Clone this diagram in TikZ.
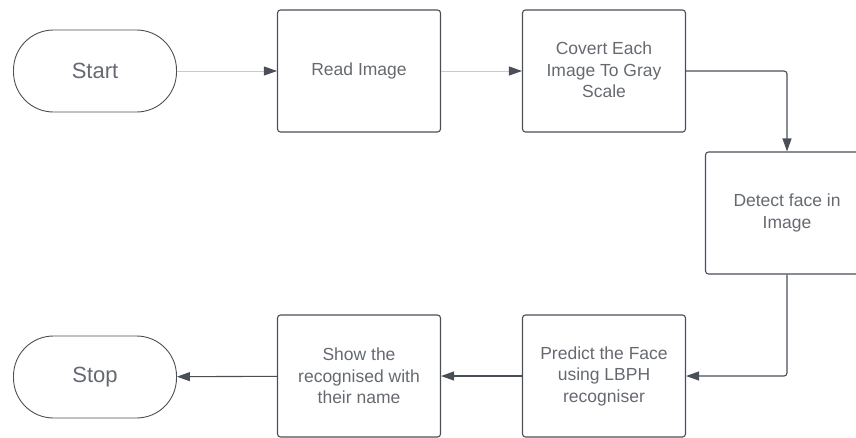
\documentclass[tikz,border=0pt]{standalone}
\usepackage{fontspec}
\setmainfont{Liberation Sans}
\usetikzlibrary{arrows.meta}

\begin{document}
\begin{tikzpicture}[x=1pt,y=-1pt]
        \definecolor{linegray}{HTML}{4A4F57}
        \definecolor{lightline}{HTML}{C8CACD}
        \tikzset{step box/.style = {shape=rectangle,draw=linegray,line width=1.1pt,rounded corners=3pt,
            minimum width=163pt,minimum height=122pt,align=center,
            font=\fontsize{17.5}{21.5}\selectfont,text=linegray!85}}
        \tikzset{terminal/.style = {shape=rectangle,draw=linegray,line width=0.9pt,rounded corners=40pt,
            minimum width=163pt,minimum height=82pt,font=\fontsize{22}{26}\selectfont,text=linegray!85}}
        \tikzset{edge/.style = {draw=linegray,line width=1.1pt,-{Triangle[length=13pt,width=9pt,color=linegray]},rounded corners=3pt}}
        \tikzset{light edge/.style = {edge,draw=lightline,line width=0.8pt}}
        \useasboundingbox (0,0) rectangle (856,437);
        % vertices
        \node[terminal] (start) at (95,71) {Start};
        \node[step box] (read) at (359,71) {\raisebox{3pt}{Read Image}};
        \node[step box] (gray) at (604,71) {\raisebox{2pt}{Covert Each}\\\raisebox{2pt}{Image To Gray}\\\raisebox{2pt}{Scale}};
        \node[step box] (detect) at (787,213) {Detect face in\\Image};
        \node[step box] (predict) at (604,376) {Predict the Face\\using LBPH\\recogniser};
        \node[step box] (show) at (359,376) {Show the\\recognised with\\their name};
        \node[terminal] (stop) at (95,377) {Stop};
        % edges
        \draw[light edge] (start) -- (read);
        \draw[light edge] (read) -- (gray);
        \draw[edge] (gray.east) -| (detect.north);
        \draw[edge] (detect.south) |- (predict.east);
        \draw[edge] (predict) -- (show);
        \draw[edge] (show) -- (stop);
    \end{tikzpicture}
\end{document}
